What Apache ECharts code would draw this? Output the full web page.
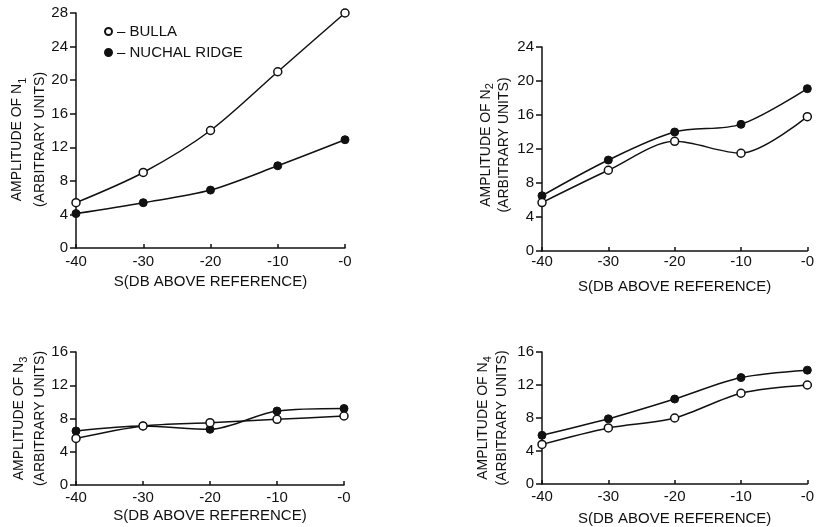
<!DOCTYPE html>
<html>
<head>
<meta charset="utf-8">
<script src="https://cdn.jsdelivr.net/npm/echarts@6/dist/echarts.min.js"></script>
<style>
html,body{margin:0;padding:0;background:#fff;}
#chart{width:817px;height:527px;}
</style>
</head>
<body>
<div id="chart"></div>
<script>
// Data
const xLabels = ['-40', '-30', '-20', '-10', '-0'];
const yMax = [28, 24, 16, 16];
const n1Bulla  = [5.4, 9.0, 14.0, 21.0, 28.0];
const n1Nuchal = [4.1, 5.4, 6.9, 9.8, 12.9];
const n2Bulla  = [5.7, 9.5, 12.9, 11.5, 15.8];
const n2Nuchal = [6.5, 10.7, 14.0, 14.9, 19.1];
const n3Bulla  = [5.6, 7.1, 7.5, 7.9, 8.3];
const n3Nuchal = [6.5, 7.1, 6.7, 8.9, 9.2];
const n4Bulla  = [4.8, 6.8, 8.0, 11.0, 12.0];
const n4Nuchal = [5.9, 7.9, 10.3, 12.9, 13.8];
const subs = ['1', '2', '3', '4'];
const xName = 'S(DB ABOVE REFERENCE)';

const FONT = 'Liberation Sans';
const grids = [
  {left: 76, top: 13, width: 269, height: 235},
  {left: 542, top: 47, width: 271, height: 204},
  {left: 76, top: 352, width: 268, height: 133},
  {left: 542, top: 352, width: 271, height: 134}
];
const yGap = [17, 29, 24, 30];
const yLine = [23, 18, 21, 19];
const yPad = [[0, 18, 0, 0], [0, 0, 0, 8], [0, 0, 0, 0], [0, 0, 0, 0]];
const xGap = [26, 28, 23, 27];
const xMargin = [6, 3, 5, 5];

const lineCol = '#111';
const xAxes = grids.map((g, i) => ({
  gridIndex: i, type: 'category', data: xLabels, boundaryGap: false,
  axisLine: {lineStyle: {color: lineCol, width: 1.5}},
  axisTick: {inside: true, length: 4, lineStyle: {color: lineCol, width: 1.5}},
  axisLabel: {color: lineCol, fontFamily: FONT, fontSize: 15, margin: xMargin[i]},
  name: xName, nameLocation: 'middle', nameGap: xGap[i],
  nameTextStyle: {color: lineCol, fontFamily: FONT, fontSize: 15}
}));
const yAxes = grids.map((g, i) => ({
  gridIndex: i, type: 'value', min: 0, max: yMax[i], interval: 4,
  axisLine: {show: true, lineStyle: {color: lineCol, width: 1.5}},
  axisTick: {show: true, length: 6, lineStyle: {color: lineCol, width: 1.5}},
  axisLabel: {color: lineCol, fontFamily: FONT, fontSize: 15, margin: 8},
  splitLine: {show: false},
  name: '{a|AMPLITUDE OF N}{s|' + subs[i] + '}\n{a|(ARBITRARY UNITS)}',
  nameLocation: 'middle', nameRotate: 90, nameGap: yGap[i],
  nameTextStyle: {
    color: lineCol, fontFamily: FONT, fontSize: 14, padding: yPad[i],
    rich: {
      a: {fontFamily: FONT, fontSize: 14, color: lineCol, lineHeight: yLine[i]},
      s: {fontFamily: FONT, fontSize: 11, color: lineCol, lineHeight: yLine[i] - 7, verticalAlign: 'bottom'}
    }
  }
}));

const bullaSets = [n1Bulla, n2Bulla, n3Bulla, n4Bulla];
const nuchalSets = [n1Nuchal, n2Nuchal, n3Nuchal, n4Nuchal];
const series = [];
for (let i = 0; i < 4; i++) {
  series.push({
    name: 'BULLA', type: 'line', xAxisIndex: i, yAxisIndex: i,
    data: bullaSets[i], smooth: 0.3, symbol: 'circle', symbolSize: 8,
    lineStyle: {color: lineCol, width: 1.5},
    itemStyle: {color: '#fff', borderColor: lineCol, borderWidth: 1.5},
    z: 3
  });
  series.push({
    name: 'NUCHAL RIDGE', type: 'line', xAxisIndex: i, yAxisIndex: i,
    data: nuchalSets[i], smooth: 0.3, symbol: 'circle', symbolSize: 8,
    lineStyle: {color: lineCol, width: 1.5},
    itemStyle: {color: lineCol, borderColor: lineCol, borderWidth: 1},
    z: 2
  });
}

const chart = echarts.init(document.getElementById('chart'), null, {renderer: 'canvas'});
chart.setOption({
  animation: false,
  backgroundColor: '#fff',
  grid: grids,
  xAxis: xAxes,
  yAxis: yAxes,
  legend: {
    data: ['BULLA', 'NUCHAL RIDGE'],
    orient: 'vertical', left: 99, top: 19,
    icon: 'circle', itemWidth: 7, itemHeight: 7, itemGap: 6,
    formatter: n => '\u2013 ' + n,
    textStyle: {color: lineCol, fontFamily: FONT, fontSize: 15}
  },
  series: series
});
</script>
</body>
</html>
